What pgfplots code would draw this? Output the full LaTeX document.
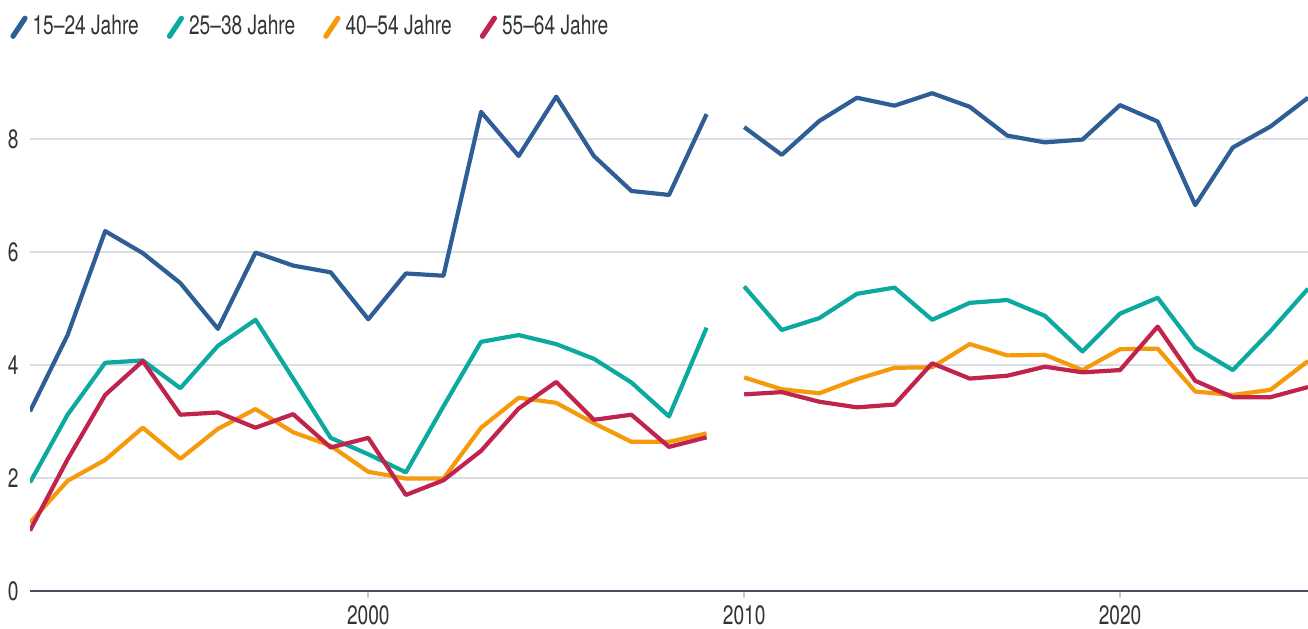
\documentclass[border=0pt]{standalone}
\usepackage{pgfplots}
\pgfplotsset{compat=1.18}
\usepackage{fontspec}
\setmainfont{TeX Gyre Heros}[FakeStretch=0.72]
\definecolor{cBlue}{HTML}{2F5D95}
\definecolor{cTeal}{HTML}{0BA9A0}
\definecolor{cOrange}{HTML}{F59A0A}
\definecolor{cRed}{HTML}{C0234B}
\definecolor{gridc}{HTML}{DADDE4}
\definecolor{tickc}{HTML}{C8CCD6}
\definecolor{axc}{HTML}{4A4D5E}
\definecolor{txt}{HTML}{333333}
\begin{document}
\fontsize{13.3bp}{15bp}\selectfont
\begin{tikzpicture}
\useasboundingbox (-15bp,-19bp) rectangle (639bp,295.5bp);
\begin{axis}[
  at={(0,0)}, anchor=south west,
  scale only axis, width=639bp, height=268.375bp,
  xmin=1991, xmax=2025, ymin=0, ymax=9.5,
  xtick={2000,2010,2020}, ytick={2,4,6,8},
  extra y ticks={0}, extra y tick labels={0},
  extra y tick style={grid style={draw=axc, line width=1.1bp}},
  axis line style={draw=none},
  ymajorgrids, grid style={draw=gridc, line width=1bp},
  xtick pos=bottom, ytick pos=left,
  tick align=outside,
  x tick style={draw=tickc, line width=0.8bp},
  y tick style={draw=none},
  major tick length=3.5bp,
  tick label style={font=\fontsize{13.3bp}{15bp}\selectfont, text=txt},
  /pgf/number format/assume math mode=true,
  xticklabel={\pgfmathprintnumber[1000 sep={}]{\tick}},
  xticklabel style={inner sep=0pt, yshift=-3.5bp, anchor=north},
  yticklabel style={inner sep=0pt, xshift=-2bp, anchor=east},
  unbounded coords=jump,
  every axis plot/.append style={line width=2.1bp, line join=round, line cap=butt},
  legend columns=4,
  legend image code/.code={\draw[#1, line cap=round, line width=2.6bp] (0bp,-4.5bp) -- (6bp,4.5bp);},
  legend style={at={(0,1)}, anchor=west, xshift=-10bp, yshift=13.5bp,
    draw=none, fill=none, inner sep=0pt,
    font=\fontsize{13.3bp}{15bp}\selectfont, text=txt,
    nodes={inner sep=1.5bp},
    /tikz/every odd column/.append style={column sep=1bp},
    /tikz/every even column/.append style={column sep=12.5bp}},
  legend cell align=left,
]
\addplot[cBlue] coordinates {
(1991,3.18) (1992,4.53) (1993,6.37) (1994,5.98) (1995,5.45) (1996,4.64) (1997,5.99) (1998,5.76) (1999,5.64) (2000,4.81) (2001,5.62) (2002,5.58) (2003,8.48) (2004,7.70) (2005,8.75) (2006,7.70) (2007,7.08) (2008,7.01) (2009,8.44)
(2009.5,nan)
(2010,8.21) (2011,7.72) (2012,8.32) (2013,8.73) (2014,8.59) (2015,8.81) (2016,8.57) (2017,8.06) (2018,7.94) (2019,7.99) (2020,8.60) (2021,8.31) (2022,6.83) (2023,7.85) (2024,8.22) (2025,8.73)
};
\addlegendentry{15–24 Jahre}
\addplot[cTeal] coordinates {
(1991,1.92) (1992,3.12) (1993,4.04) (1994,4.08) (1995,3.59) (1996,4.34) (1997,4.80) (1998,3.76) (1999,2.71) (2000,2.42) (2001,2.10) (2002,3.27) (2003,4.41) (2004,4.53) (2005,4.37) (2006,4.11) (2007,3.69) (2008,3.09) (2009,4.66)
(2009.5,nan)
(2010,5.39) (2011,4.62) (2012,4.83) (2013,5.26) (2014,5.37) (2015,4.80) (2016,5.10) (2017,5.15) (2018,4.87) (2019,4.24) (2020,4.91) (2021,5.19) (2022,4.31) (2023,3.91) (2024,4.60) (2025,5.35)
};
\addlegendentry{25–38 Jahre}
\addplot[cOrange] coordinates {
(1991,1.21) (1992,1.95) (1993,2.32) (1994,2.89) (1995,2.34) (1996,2.87) (1997,3.22) (1998,2.81) (1999,2.57) (2000,2.11) (2001,1.99) (2002,1.99) (2003,2.89) (2004,3.42) (2005,3.33) (2006,2.97) (2007,2.64) (2008,2.64) (2009,2.79)
(2009.5,nan)
(2010,3.78) (2011,3.57) (2012,3.50) (2013,3.75) (2014,3.95) (2015,3.96) (2016,4.37) (2017,4.17) (2018,4.18) (2019,3.91) (2020,4.28) (2021,4.29) (2022,3.53) (2023,3.47) (2024,3.56) (2025,4.07)
};
\addlegendentry{40–54 Jahre}
\addplot[cRed] coordinates {
(1991,1.07) (1992,2.33) (1993,3.47) (1994,4.07) (1995,3.12) (1996,3.16) (1997,2.89) (1998,3.13) (1999,2.54) (2000,2.71) (2001,1.70) (2002,1.96) (2003,2.48) (2004,3.23) (2005,3.70) (2006,3.03) (2007,3.12) (2008,2.55) (2009,2.72)
(2009.5,nan)
(2010,3.48) (2011,3.52) (2012,3.35) (2013,3.25) (2014,3.30) (2015,4.03) (2016,3.76) (2017,3.81) (2018,3.97) (2019,3.87) (2020,3.91) (2021,4.68) (2022,3.72) (2023,3.43) (2024,3.43) (2025,3.61)
};
\addlegendentry{55–64 Jahre}
\end{axis}
\end{tikzpicture}
\end{document}
